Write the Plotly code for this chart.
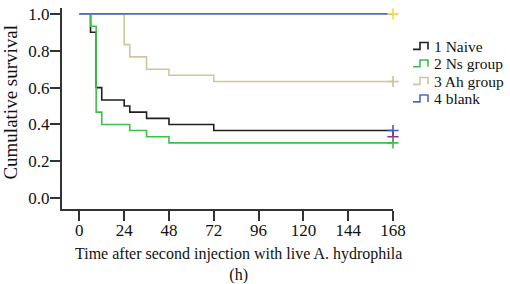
import plotly.graph_objects as go

# ---- data ----
groups = ["1 Naive", "2 Ns group", "3 Ah group", "4 blank"]
t_naive = [0, 6, 9, 12, 24, 27, 36, 48, 72, 168]
s_naive = [1.0, 0.9, 0.6, 0.533, 0.5, 0.467, 0.433, 0.4, 0.367, 0.367]
t_ns = [0, 6, 9, 12, 27, 36, 48, 168]
s_ns = [1.0, 0.933, 0.467, 0.4, 0.367, 0.333, 0.3, 0.3]
t_ah = [0, 24, 27, 36, 48, 72, 168]
s_ah = [1.0, 0.833, 0.767, 0.7, 0.667, 0.633, 0.633]
t_blank = [0, 168]
s_blank = [1.0, 1.0]
censor_t = [168, 168, 168, 168, 168]
censor_s = [1.0, 0.633, 0.367, 0.333, 0.3]
x_ticks = [0, 24, 48, 72, 96, 120, 144, 168]
y_ticks = [0.0, 0.2, 0.4, 0.6, 0.8, 1.0]

colors = ["#231f20", "#3dbf4f", "#cdc79c", "#4a6fc0"]
censor_colors = ["#f0e030", "#c8c290", "#3a5fc8", "#8e2f8e", "#3dbf4f"]

W, H = 510, 284
ML, MR, MT, MB = 62, 117, 5, 75
FONT = "Liberation Serif, Times New Roman, serif"

fig = go.Figure()
series = [(t_naive, s_naive), (t_ns, s_ns), (t_ah, s_ah), (t_blank, s_blank)]
for (t, s), c, name in zip(series, colors, groups):
    fig.add_trace(go.Scatter(x=t, y=s, mode="lines", line=dict(shape="hv", color=c, width=1.6),
                             name=name, showlegend=False, cliponaxis=False))
fig.add_trace(go.Scatter(x=censor_t, y=censor_s, mode="markers", showlegend=False, cliponaxis=False,
                         marker=dict(symbol="cross-thin", size=8,
                                     line=dict(color=censor_colors, width=1.6))))

pw = W - ML - MR
ph = H - MT - MB
def px(xp):
    return (xp - ML) / pw
def py(yp):
    return (H - MB - yp) / ph

annotations = [
    dict(text="Cumulative survival", x=px(11), y=py(101), xref="paper", yref="paper",
         textangle=-90, showarrow=False, font=dict(family=FONT, size=19, color="#111"),
         xanchor="center", yanchor="middle"),
    dict(text="Time after second injection with live A. hydrophila<br>(h)", x=px(238), y=py(265),
         xref="paper", yref="paper", showarrow=False, font=dict(family=FONT, size=16, color="#111"),
         xanchor="center", yanchor="middle", align="center"),
]
shapes = []
leg_y = [44, 61.7, 79.5, 97.3]
for name, c, ly in zip(groups, colors, leg_y):
    annotations.append(dict(text=name, x=px(432), y=py(ly), xref="paper", yref="paper",
                            showarrow=False, xanchor="left", yanchor="middle",
                            font=dict(family=FONT, size=15.5, color="#111")))
    x0, xm, x1 = px(413), px(420), px(428)
    yb, yt = py(ly + 3), py(ly - 4)
    shapes.append(dict(type="path", xref="paper", yref="paper",
                       path=f"M {x0} {yb} L {xm} {yb} L {xm} {yt} L {x1} {yt} L {x1} {yb}",
                       line=dict(color=c, width=1.6)))

fig.update_layout(
    width=W, height=H, margin=dict(l=ML, r=MR, t=MT, b=MB),
    paper_bgcolor="white", plot_bgcolor="white",
    font=dict(family=FONT, size=17, color="#111"),
    annotations=annotations, shapes=shapes, showlegend=False,
    xaxis=dict(range=[-9.3, 168], tickvals=x_ticks, ticks="outside", ticklen=10, tickwidth=2,
               tickcolor="#333", showline=True, linecolor="#333", linewidth=2, showgrid=False,
               zeroline=False, tickfont=dict(size=17), fixedrange=True, ticklabelstandoff=-5),
    yaxis=dict(range=[-0.0588, 1.032], tickvals=y_ticks, tickformat=".1f", ticks="outside",
               ticklen=10, tickwidth=2, tickcolor="#333", showline=True, linecolor="#333",
               linewidth=2, showgrid=False, zeroline=False, tickfont=dict(size=17), fixedrange=True,
               ticklabelstandoff=-3),
)
fig.write_html("out.html", config={"displayModeBar": False},
               post_script="document.body.style.margin='0';")
